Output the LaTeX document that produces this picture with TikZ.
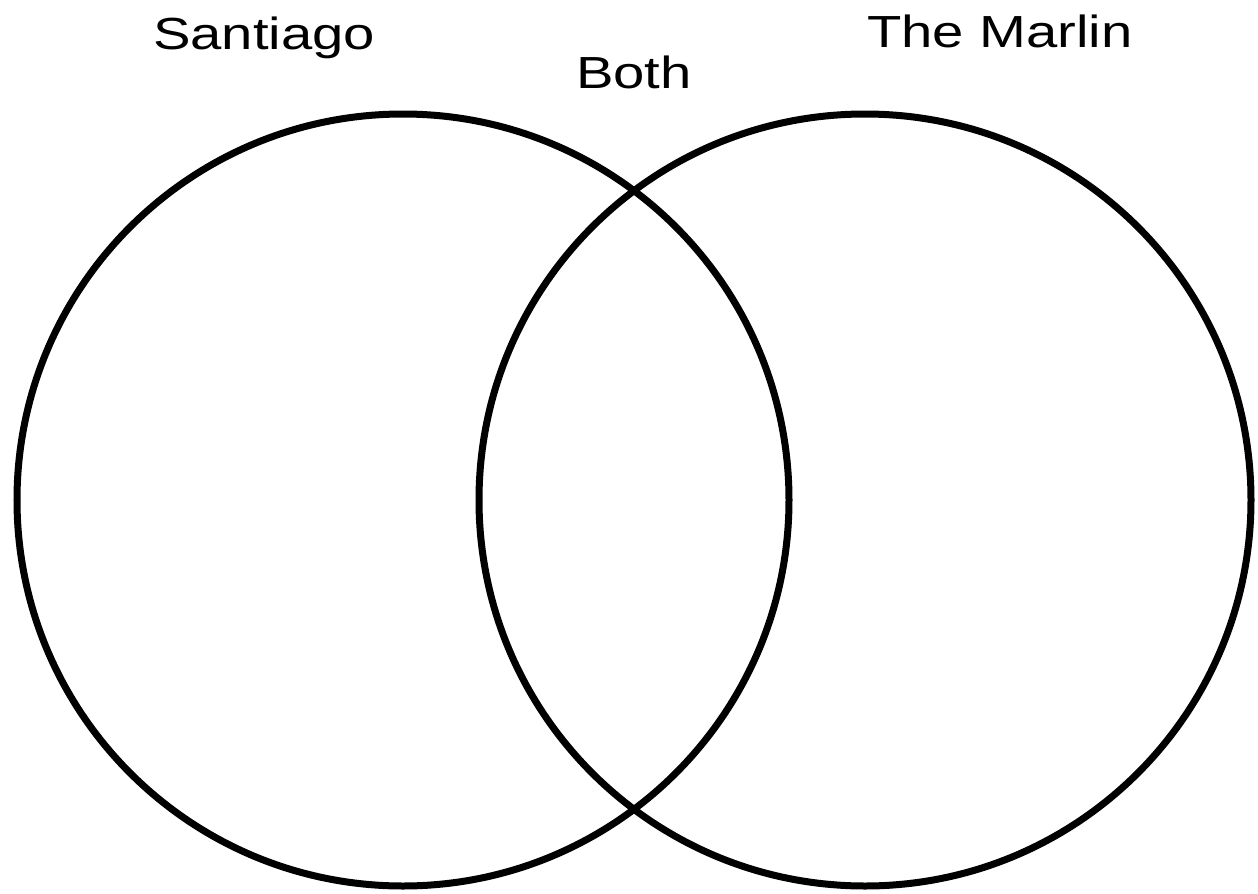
\documentclass[tikz,border=0pt]{standalone}
\usepackage{fontspec}
\setmainfont{Liberation Sans}
\usepackage{tikz}
\usetikzlibrary{positioning}

\begin{document}
\begin{tikzpicture}[
  ring/.style={draw=black, line width=0.14cm},
  lbl/.style={anchor=base, inner sep=0pt, font=\fontsize{25.6}{30}\selectfont},
]
\useasboundingbox (0,0) rectangle (25.16,-17.86);
% the two sets
\node[ring, circle, minimum size=15.44cm, inner sep=0pt] (santiago) at (8.06,-10.0) {};
\node[ring, circle, minimum size=15.44cm, inner sep=0pt] (marlin) at (17.3,-10.0) {};

% headings
\node[lbl] (lsantiago) at (5.28,-0.99) {\scalebox{1.25}[1]{Santiago}};
\node[lbl] (lboth) at (12.68,-1.76) {\scalebox{1.25}[1]{Both}};
\node[lbl] (lmarlin) at (20.0,-0.94) {\scalebox{1.25}[1]{The Marlin}};
\end{tikzpicture}
\end{document}
